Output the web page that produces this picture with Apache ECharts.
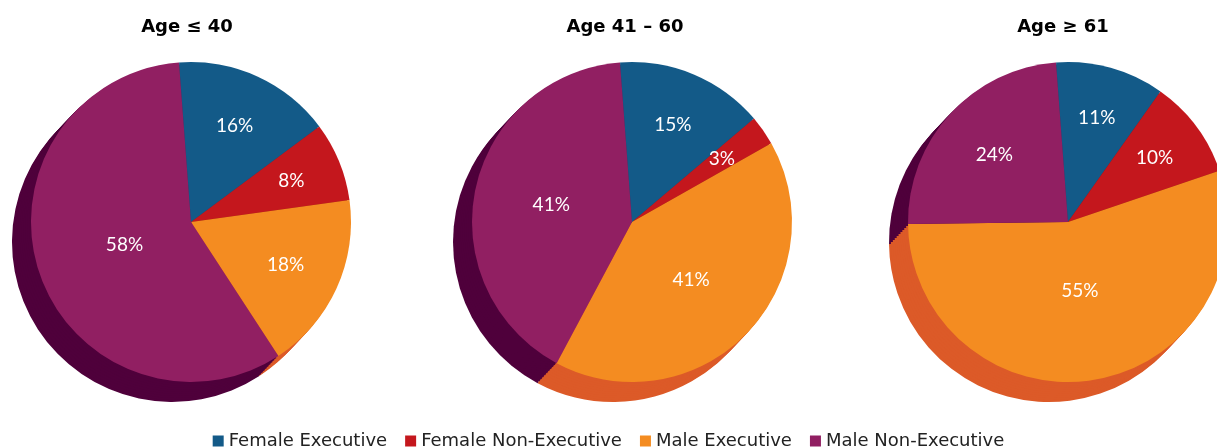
<!DOCTYPE html>
<html>
<head>
<meta charset="utf-8">
<title>Board composition by age</title>
<script src="https://cdn.jsdelivr.net/npm/echarts@6/dist/echarts.min.js"></script>
<style>
  html, body { margin: 0; padding: 0; background: #fff; }
  #chart { width: 1217px; height: 448px; }
</style>
</head>
<body>
<div id="chart"></div>
<script>
// data (percent of each age group)
const categories = ['Female Executive', 'Female Non-Executive', 'Male Executive', 'Male Non-Executive'];
const groups = ['Age ≤ 40', 'Age 41 – 60', 'Age ≥ 61'];
const age40 = [16, 8, 18, 58];
const age41to60 = [15, 3, 41, 41];
const age61 = [11, 10, 55, 24];
const groupValues = [age40, age41to60, age61];

// look
const topColors = ['#135a88', '#c4171d', '#f48c21', '#911f62'];
const sideColors = ['#0c4a6e', '#8a1015', '#dc5a28', '#4f003b'];
const centersX = [191, 632, 1068];
const titlesX = [182, 620, 1058];
const centerY = 222;
const R = 160;
const START = 94.3;          // first slice starts a bit left of 12 o'clock
const DEPTH_X = -19, DEPTH_Y = 20, STEPS = 10;

// move the inside labels out to the centroid of each slice
function labelShift(vals) {
  const total = vals.reduce((a, b) => a + b, 0);
  return function (p) {
    let cum = 0;
    for (let i = 0; i < p.dataIndex; i++) cum += vals[i];
    const v = vals[p.dataIndex];
    const mid = ((90 - START) + (cum + v / 2) / total * 360) * Math.PI / 180;
    const half = (v / total) * Math.PI;
    // centroid, but keep big slices' labels a little further out
    const d = Math.max(2 * R * Math.sin(half) / (3 * half), 0.42 * R);
    const k = d - R / 2;
    return { dx: k * Math.sin(mid), dy: -k * Math.cos(mid) };
  };
}

function pieData(vals, colors) {
  return vals.map((v, i) => ({ name: categories[i], value: v, itemStyle: { color: colors[i] } }));
}

const series = [];
// top faces first so the legend picks their colours
groupValues.forEach((vals, g) => {
  series.push({
    name: groups[g],
    type: 'pie',
    center: [centersX[g], centerY],
    radius: R,
    startAngle: START,
    clockwise: true,
    z: STEPS + 5,
    avoidLabelOverlap: false,
    itemStyle: { borderWidth: 0 },
    label: {
      show: true,
      position: 'inside',
      formatter: '{c}%',
      color: '#fff',
      fontFamily: 'Lato',
      fontSize: 19
    },
    labelLine: { show: false },
    labelLayout: labelShift(vals),
    emphasis: { disabled: true },
    data: pieData(vals, topColors)
  });
});
// side wall: stacked copies pushed down-left
groupValues.forEach((vals, g) => {
  for (let k = STEPS; k >= 1; k--) {
    series.push({
      type: 'pie',
      silent: true,
      center: [centersX[g] + DEPTH_X * k / STEPS, centerY + DEPTH_Y * k / STEPS],
      radius: R,
      startAngle: START,
      clockwise: true,
      z: STEPS - k + 1,
      label: { show: false },
      labelLine: { show: false },
      itemStyle: { borderWidth: 0 },
      emphasis: { disabled: true },
      data: pieData(vals, sideColors)
    });
  }
});

const chart = echarts.init(document.getElementById('chart'));
chart.setOption({
  animation: false,
  backgroundColor: '#fff',
  title: groups.map((t, g) => ({
    text: t,
    left: titlesX[g],
    top: 13,
    textAlign: 'center',
    textStyle: { fontFamily: 'DejaVu Sans', fontWeight: 'bold', fontSize: 18, color: '#000' }
  })),
  legend: {
    data: categories,
    bottom: -7,
    left: 'center',
    icon: 'rect',
    itemWidth: 11,
    itemHeight: 11,
    itemGap: 18,
    textStyle: { fontFamily: 'DejaVu Sans', fontSize: 18, color: '#222' }
  },
  series: series
});
</script>
</body>
</html>
